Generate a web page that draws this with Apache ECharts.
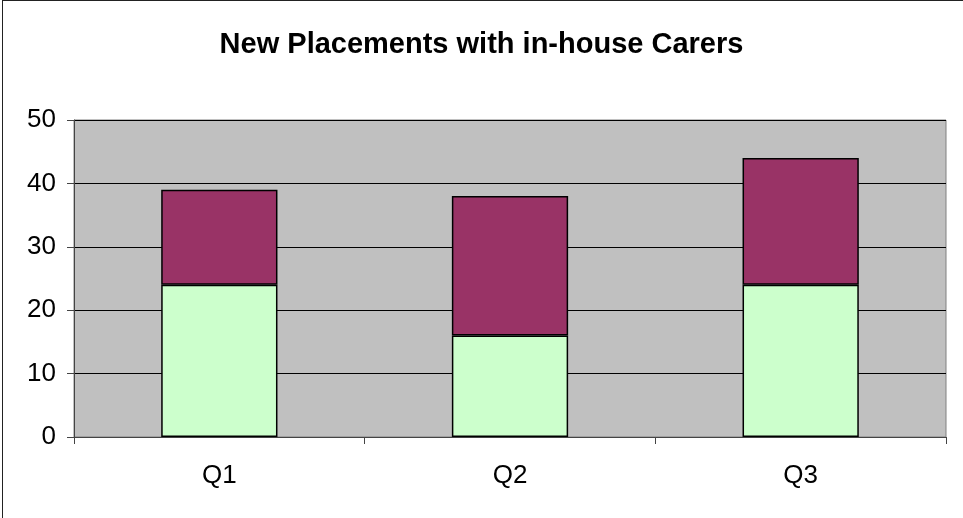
<!DOCTYPE html>
<html>
<head>
    <meta charset="utf-8">
    <title>New Placements with in-house Carers</title>
    <script src="https://cdn.jsdelivr.net/npm/echarts@6.0.0/dist/echarts.min.js"></script>
    <style>
        html, body { margin: 0; padding: 0; background: #fff; }
        #wrap { position: relative; width: 963px; height: 518px; }
        #chart { width: 963px; height: 518px; }
        #frame {
            position: absolute;
            left: 2px; top: 0;
            width: 961px; height: 518px;
            border-top: 1px solid #222;
            border-left: 1px solid #222;
            box-sizing: border-box;
            pointer-events: none;
        }
    </style>
</head>
<body>
<div id="wrap">
    <div id="chart"></div>
    <div id="frame"></div>
</div>
<script>
    // quarters and the two stacked parts
    var quarters = ['Q1', 'Q2', 'Q3'];
    var lowerPart = [24, 16, 24];
    var upperPart = [15, 22, 20];
    var yTicks = [0, 10, 20, 30, 40, 50];

    var chart = echarts.init(document.getElementById('chart'));

    var font = 'Liberation Sans, Arial, sans-serif';

    var barStyle = function (color) {
        return { color: color, borderColor: '#000', borderWidth: 1.5 };
    };

    var option = {
        animation: false,
        title: {
            text: 'New Placements with in-house Carers',
            left: 'center',
            top: 25,
            textStyle: { fontFamily: font, fontSize: 29, fontWeight: 'bold', color: '#000' }
        },
        grid: {
            left: 74, right: 17, top: 120, bottom: 81,
            show: true,
            backgroundColor: '#c0c0c0',
            borderColor: '#808080',
            borderWidth: 1
        },
        xAxis: {
            type: 'category',
            data: quarters,
            axisLine: { lineStyle: { color: '#444', width: 1 } },
            axisTick: { show: true, length: 7, lineStyle: { color: '#444' } },
            axisLabel: { fontFamily: font, fontSize: 26, color: '#000', margin: 26 }
        },
        yAxis: {
            type: 'value',
            min: yTicks[0],
            max: yTicks[yTicks.length - 1],
            interval: 10,
            axisLine: { show: true, lineStyle: { color: '#444', width: 1 } },
            axisTick: { show: true, length: 7, lineStyle: { color: '#444' } },
            axisLabel: { fontFamily: font, fontSize: 26, color: '#000', margin: 18 },
            splitLine: { lineStyle: { color: '#000', width: 1 } }
        },
        series: [
            {
                name: 'lower',
                type: 'bar',
                stack: 'total',
                barWidth: '40%',
                data: lowerPart,
                itemStyle: barStyle('#ccffcc')
            },
            {
                name: 'upper',
                type: 'bar',
                stack: 'total',
                barWidth: '40%',
                data: upperPart,
                itemStyle: barStyle('#993366')
            }
        ]
    };

    chart.setOption(option);
</script>
</body>
</html>
